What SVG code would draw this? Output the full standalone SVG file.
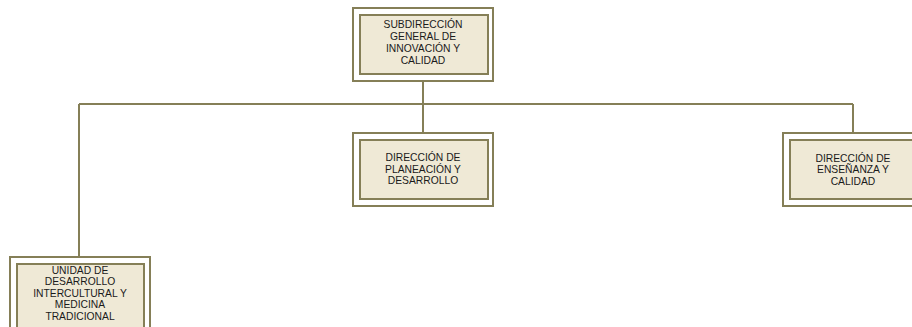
<svg xmlns="http://www.w3.org/2000/svg" width="912" height="327" viewBox="0 0 912 327">
<style>
.o{fill:#ffffff;stroke:#857f57;stroke-width:2}
.i{fill:#efe9d6;stroke:#857f57;stroke-width:2}
.c{fill:none;stroke:#857f57;stroke-width:2}
text{font-family:"Liberation Sans",Arial,sans-serif;font-size:10.3px;fill:#1a1a1a;text-anchor:middle}
</style>
<rect width="912" height="327" fill="#ffffff"/>
<g id="connectors">
<path class="c" d="M423 81V104M79 104H853M423 104V132M853 104V132M79 104V256"/>
</g>
<g id="subdireccion">
<rect class="o" x="353" y="8" width="140" height="73"/>
<rect class="i" x="360" y="15" width="128" height="59"/>
<text x="423" y="28">SUBDIRECCIÓN</text>
<text x="423" y="40">GENERAL DE</text>
<text x="423" y="52">INNOVACIÓN Y</text>
<text x="423" y="64">CALIDAD</text>
</g>
<g id="planeacion">
<rect class="o" x="353" y="133" width="140" height="73"/>
<rect class="i" x="360" y="140" width="128" height="59"/>
<text x="423" y="161">DIRECCIÓN DE</text>
<text x="423" y="172.5">PLANEACIÓN Y</text>
<text x="423" y="184">DESARROLLO</text>
</g>
<g id="ensenanza">
<rect class="o" x="783" y="133" width="140" height="73"/>
<rect class="i" x="790" y="140" width="128" height="59"/>
<text x="853" y="161.5">DIRECCIÓN DE</text>
<text x="853" y="173">ENSEÑANZA Y</text>
<text x="853" y="184.5">CALIDAD</text>
</g>
<g id="unidad">
<rect class="o" x="10" y="257" width="140" height="80"/>
<rect class="i" x="17" y="264" width="127" height="70"/>
<text x="80" y="273.5">UNIDAD DE</text>
<text x="80" y="285">DESARROLLO</text>
<text x="80" y="296.5">INTERCULTURAL Y</text>
<text x="80" y="308">MEDICINA</text>
<text x="80" y="319.5">TRADICIONAL</text>
</g>
</svg>
